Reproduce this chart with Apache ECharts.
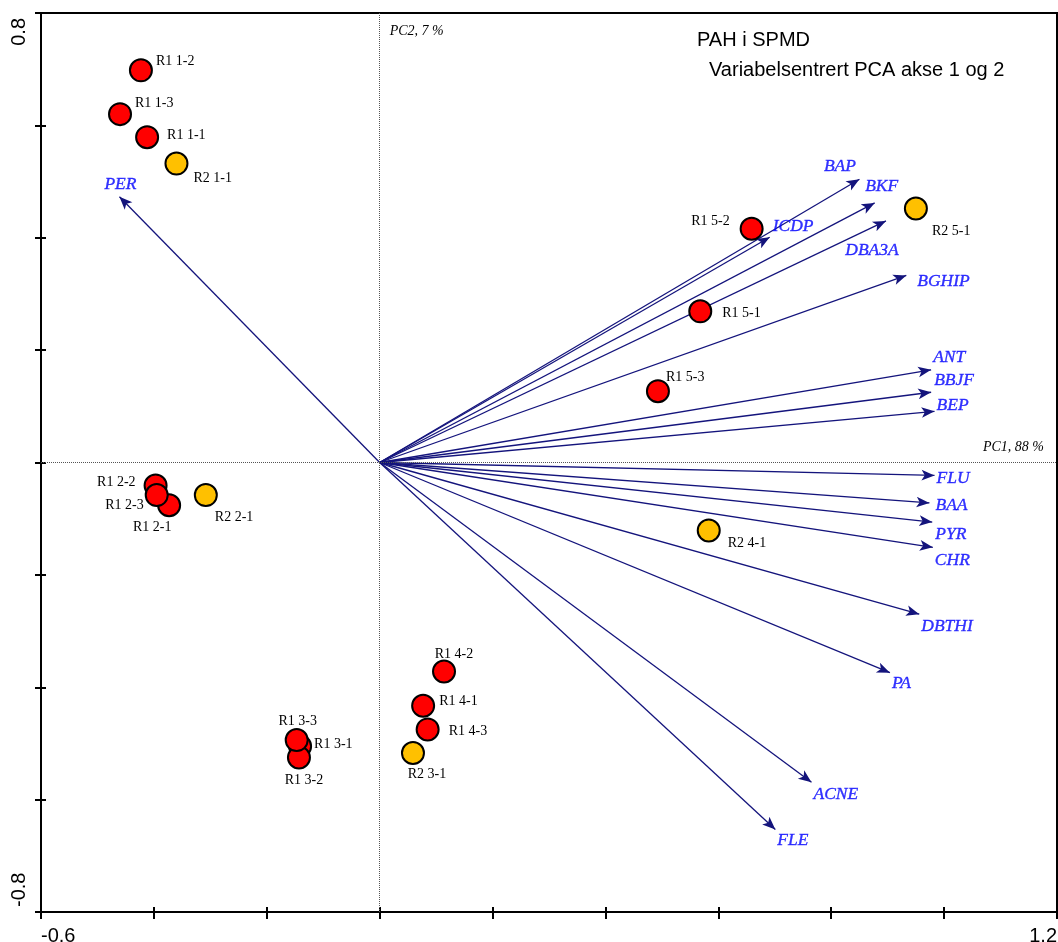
<!DOCTYPE html>
<html><head><meta charset="utf-8">
<script src="https://cdn.jsdelivr.net/npm/echarts@6/dist/echarts.min.js"></script>
<style>html,body{margin:0;padding:0;background:#fff}#c{width:1058px;height:942px}</style>
</head><body><div id="c"></div>
<script>
// ---- data ----
const xTickLabels = ['-0.6', '1.2'];
const yTickLabels = ['-0.8', '0.8'];
const titleLines = ['PAH i SPMD', 'Variabelsentrert PCA akse 1 og 2'];
const axisTitles = ['PC1, 88 %', 'PC2, 7 %'];

const varNames = ['PER','BAP','BKF','ICDP','DBA3A','BGHIP','ANT','BBJF','BEP','FLU','BAA','PYR','CHR','DBTHI','PA','ACNE','FLE'];
const varX = [-0.461, 0.850, 0.877, 0.691, 0.897, 0.933, 0.977, 0.977, 0.983, 0.983, 0.974, 0.979, 0.980, 0.956, 0.904, 0.765, 0.701];
const varY = [0.473, 0.504, 0.462, 0.401, 0.430, 0.333, 0.165, 0.125, 0.091, -0.023, -0.072, -0.106, -0.151, -0.270, -0.374, -0.569, -0.653];

const r1Names = ['R1 1-2','R1 1-3','R1 1-1','R1 2-2','R1 2-1','R1 2-3','R1 3-1','R1 3-2','R1 3-3','R1 4-2','R1 4-1','R1 4-3','R1 5-2','R1 5-1','R1 5-3'];
const r1X = [-0.423, -0.460, -0.412, -0.397, -0.373, -0.395, -0.141, -0.143, -0.147, 0.114, 0.077, 0.085, 0.659, 0.568, 0.493];
const r1Y = [0.698, 0.620, 0.579, -0.041, -0.076, -0.058, -0.505, -0.525, -0.494, -0.372, -0.433, -0.475, 0.416, 0.269, 0.127];

const r2Names = ['R2 1-1','R2 2-1','R2 3-1','R2 4-1','R2 5-1'];
const r2X = [-0.360, -0.308, 0.059, 0.583, 0.950];
const r2Y = [0.532, -0.058, -0.517, -0.121, 0.452];

// ---- label placement (style only): [dx, dy, align] ----
const pointLabelPos = {
  'R1 1-2': [15, -9, 'left'], 'R1 1-3': [15, -11, 'left'], 'R1 1-1': [20, -2, 'left'], 'R2 1-1': [17, 15, 'left'],
  'R1 5-2': [-22, -7, 'right'], 'R2 5-1': [16, 23, 'left'], 'R1 5-1': [22, 2, 'left'], 'R1 5-3': [8, -14, 'left'],
  'R1 2-2': [-20, -3, 'right'], 'R1 2-3': [-13, 10, 'right'], 'R1 2-1': [-17, 22, 'center'], 'R2 2-1': [9, 22, 'left'],
  'R2 4-1': [19, 13, 'left'], 'R1 4-2': [10, -17, 'center'], 'R1 4-1': [16, -4, 'left'], 'R1 4-3': [21, 2, 'left'],
  'R2 3-1': [14, 21, 'center'], 'R1 3-3': [1, -19, 'center'], 'R1 3-1': [14, -2, 'left'], 'R1 3-2': [5, 23, 'center']
};
const varLabelPos = {
  PER: [1, -12, 'center'], BAP: [-19.5, -13, 'center'], BKF: [7, -17, 'center'], ICDP: [3, -11, 'left'],
  DBA3A: [-14, 30, 'center'], BGHIP: [11, 6, 'left'], ANT: [2, -12, 'left'], BBJF: [3, -12, 'left'],
  BEP: [2, -6, 'left'], FLU: [2, 3, 'left'], BAA: [6, 2, 'left'], PYR: [3, 12, 'left'], CHR: [2, 13, 'left'],
  DBTHI: [2, 12, 'left'], PA: [2, 11, 'left'], ACNE: [2, 12, 'left'], FLE: [2, 11, 'left']
};

const sans = 'Liberation Sans, Arial, sans-serif';
const serif = 'Liberation Serif, Times New Roman, serif';
const arrowColor = '#14147c';
const varColor = '#0000ff';

function pointData(names, xs, ys) {
  return names.map((n, i) => {
    const p = pointLabelPos[n] || [12, 0, 'left'];
    return { name: n, value: [xs[i], ys[i]],
      label: { offset: [p[0], p[1]], align: p[2] } };
  });
}
function varData() {
  return varNames.map((n, i) => {
    const p = varLabelPos[n] || [2, 10, 'left'];
    return { name: n, value: [varX[i], varY[i]], label: { offset: [p[0], p[1]], align: p[2] } };
  });
}
function fmt(list) {
  return v => { const s = (Math.abs(v) < 1e-9 ? 0 : v).toFixed(1); return list.includes(s) ? s : ''; };
}

const chart = echarts.init(document.getElementById('c'));
const pointLabel = { show: true, position: 'inside', verticalAlign: 'middle', fontFamily: serif, fontSize: 14, color: '#000' };

chart.setOption({
  animation: false,
  backgroundColor: '#fff',
  title: [
    { text: titleLines[0], left: 697, top: 30.5, padding: 0, textStyle: { fontFamily: sans, fontSize: 20, fontWeight: 'normal', color: '#000' } },
    { text: titleLines[1], left: 709, top: 60, padding: 0, textStyle: { fontFamily: sans, fontSize: 20, fontWeight: 'normal', color: '#000' } }
  ],
  grid: { left: 41, right: 1, top: 13, bottom: 30, outerBoundsMode: 'none', containLabel: false,
    show: true, borderColor: '#000', borderWidth: 2, backgroundColor: 'transparent' },
  xAxis: [
    { type: 'value', min: -0.6, max: 1.2, interval: 0.2, position: 'bottom',
      axisLine: { show: true, onZero: false, lineStyle: { color: '#000', width: 2 } },
      axisTick: { show: true, inside: false, length: 7, lineStyle: { color: '#000', width: 2 } },
      axisLabel: { show: true, interval: 0, margin: 14, fontFamily: sans, fontSize: 20, color: '#000',
        formatter: fmt(xTickLabels), alignMinLabel: 'left', alignMaxLabel: 'right' },
      splitLine: { show: false } },
    { type: 'value', min: -0.6, max: 1.2, interval: 0.2, position: 'bottom',
      axisLine: { show: false, onZero: false },
      axisTick: { show: true, inside: true, length: 5, lineStyle: { color: '#000', width: 2 } },
      axisLabel: { show: false }, splitLine: { show: false } }
  ],
  yAxis: [
    { type: 'value', min: -0.8, max: 0.8, interval: 0.2, position: 'left',
      axisLine: { show: true, onZero: false, lineStyle: { color: '#000', width: 2 } },
      axisTick: { show: true, inside: false, length: 6, lineStyle: { color: '#000', width: 2 } },
      axisLabel: { show: true, interval: 0, rotate: 90, margin: 12, padding: [0, 5, 0, 5], fontFamily: sans, fontSize: 20, color: '#000',
        formatter: fmt(yTickLabels), alignMinLabel: 'left', alignMaxLabel: 'right' },
      splitLine: { show: false } },
    { type: 'value', min: -0.8, max: 0.8, interval: 0.2, position: 'left',
      axisLine: { show: false, onZero: false },
      axisTick: { show: true, inside: true, length: 5, lineStyle: { color: '#000', width: 2 } },
      axisLabel: { show: false }, splitLine: { show: false } }
  ],
  series: [
    { type: 'scatter', name: 'ref', data: [], z: 1, silent: true,
      markLine: { silent: true, symbol: ['none', 'none'], label: { show: false },
        lineStyle: { type: 'dotted', color: '#555', width: 1 },
        data: [{ xAxis: 0 }, { yAxis: 0 }] } },
    { type: 'lines', coordinateSystem: 'cartesian2d', z: 2, silent: true,
      symbol: ['none', 'arrow'], symbolSize: [1, [8, 13]],
      lineStyle: { color: arrowColor, width: 1.3, opacity: 1, curveness: 0 },
      data: varNames.map((n, i) => ({ coords: [[0, 0], [varX[i], varY[i]]] })) },
    { type: 'scatter', name: 'R1', z: 3, symbol: 'circle', symbolSize: 22,
      itemStyle: { color: '#ff0000', borderColor: '#000', borderWidth: 2, opacity: 1 },
      label: Object.assign({}, pointLabel, { formatter: '{b}' }),
      emphasis: { disabled: true },
      data: pointData(r1Names, r1X, r1Y) },
    { type: 'scatter', name: 'R2', z: 3, symbol: 'circle', symbolSize: 22,
      itemStyle: { color: '#ffc000', borderColor: '#000', borderWidth: 2, opacity: 1 },
      label: Object.assign({}, pointLabel, { formatter: '{b}' }),
      emphasis: { disabled: true },
      data: pointData(r2Names, r2X, r2Y) },
    { type: 'scatter', name: 'vars', z: 4, symbol: 'circle', symbolSize: 1,
      itemStyle: { color: 'transparent' }, emphasis: { disabled: true },
      label: { show: true, position: 'inside', verticalAlign: 'middle', formatter: '{b}',
        fontFamily: serif, fontStyle: 'italic', fontSize: 17.5, color: varColor,
        textBorderColor: varColor, textBorderWidth: 0.35 },
      data: varData() }
  ]
});

// axis titles anchored to data coordinates
const pc2 = chart.convertToPixel({ xAxisIndex: 0, yAxisIndex: 0 }, [0, 0.8]);
const pc1 = chart.convertToPixel({ xAxisIndex: 0, yAxisIndex: 0 }, [1.2, 0]);
chart.setOption({
  graphic: [
    { type: 'text', x: pc2[0] + 10, y: pc2[1] + 18, z: 10,
      style: { text: axisTitles[1], fontFamily: serif, fontStyle: 'italic', fontSize: 14, fill: '#000', textAlign: 'left', textVerticalAlign: 'middle' } },
    { type: 'text', x: pc1[0] - 13, y: pc1[1] - 15, z: 10,
      style: { text: axisTitles[0], fontFamily: serif, fontStyle: 'italic', fontSize: 14, fill: '#000', textAlign: 'right', textVerticalAlign: 'middle' } }
  ]
});
</script>
</body></html>
